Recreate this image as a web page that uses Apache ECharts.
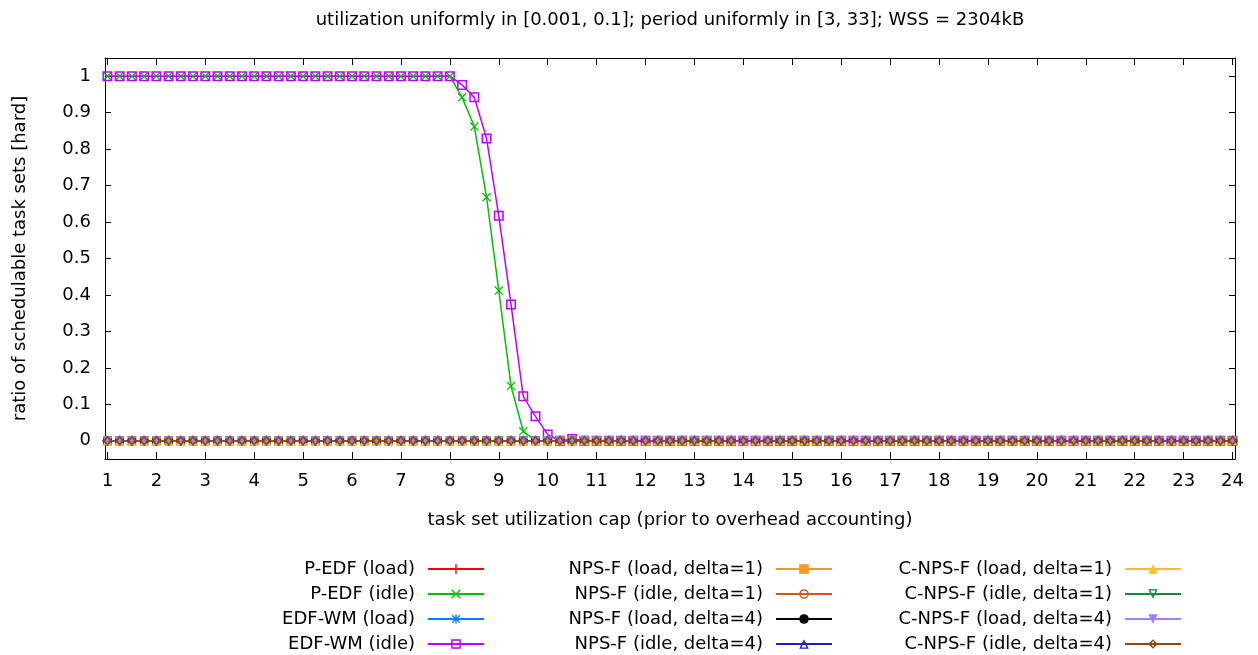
<!DOCTYPE html>
<html><head><meta charset="utf-8">
<script src="https://cdn.jsdelivr.net/npm/echarts@6/dist/echarts.min.js"></script>
<style>html,body{margin:0;padding:0;background:#fff}#c{width:1258px;height:655px}</style>
</head><body><div id="c"></div><script>
// ---- data ----
const xValues = [1,1.25,1.5,1.75,2,2.25,2.5,2.75,3,3.25,3.5,3.75,4,4.25,4.5,4.75,5,5.25,5.5,5.75,6,6.25,6.5,6.75,7,7.25,7.5,7.75,8,8.25,8.5,8.75,9,9.25,9.5,9.75,10,10.25,10.5,10.75,11,11.25,11.5,11.75,12,12.25,12.5,12.75,13,13.25,13.5,13.75,14,14.25,14.5,14.75,15,15.25,15.5,15.75,16,16.25,16.5,16.75,17,17.25,17.5,17.75,18,18.25,18.5,18.75,19,19.25,19.5,19.75,20,20.25,20.5,20.75,21,21.25,21.5,21.75,22,22.25,22.5,22.75,23,23.25,23.5,23.75,24];

const zeroRow = [0,0,0,0,0,0,0,0,0,0, 0,0,0,0,0,0,0,0,0,0, 0,0,0,0,0,0,0,0,0,0, 0,0,0,0,0,0,0,0,0,0, 0,0,0,0,0,0,0,0,0,0, 0,0,0,0,0,0,0,0,0,0, 0,0,0,0,0,0,0,0,0,0, 0,0,0,0,0,0,0,0,0,0, 0,0,0,0,0,0,0,0,0,0, 0,0,0];

const pEdfLoad = zeroRow;
const pEdfIdle = [1,1,1,1,1,1,1,1,1,1, 1,1,1,1,1,1,1,1,1,1, 1,1,1,1,1,1,1,1,1,
  0.942,0.862,0.668,0.412,0.150,0.026,
  0,0,0,0,0,0,0,0,0,0, 0,0,0,0,0,0,0,0,0,0, 0,0,0,0,0,0,0,0,0,0, 0,0,0,0,0,0,0,0,0,0, 0,0,0,0,0,0,0,0,0,0, 0,0,0,0,0,0,0,0];
const edfWmLoad = zeroRow;
const edfWmIdle = [1,1,1,1,1,1,1,1,1,1, 1,1,1,1,1,1,1,1,1,1, 1,1,1,1,1,1,1,1,1,
  0.976,0.942,0.829,0.617,0.374,0.122,0.067,0.017,0,0.005,
  0,0,0,0,0,0,0,0,0,0, 0,0,0,0,0,0,0,0,0,0, 0,0,0,0,0,0,0,0,0,0, 0,0,0,0,0,0,0,0,0,0, 0,0,0,0,0,0,0,0,0,0, 0,0,0,0];
const npsfLoadD1 = zeroRow;
const npsfIdleD1 = zeroRow;
const npsfLoadD4 = zeroRow;
const npsfIdleD4 = zeroRow;
const cnpsfLoadD1 = zeroRow;
const cnpsfIdleD1 = zeroRow;
const cnpsfLoadD4 = zeroRow;
const cnpsfIdleD4 = zeroRow;

const seriesNames = ['P-EDF (load)','P-EDF (idle)','EDF-WM (load)','EDF-WM (idle)',
  'NPS-F (load, delta=1)','NPS-F (idle, delta=1)','NPS-F (load, delta=4)','NPS-F (idle, delta=4)',
  'C-NPS-F (load, delta=1)','C-NPS-F (idle, delta=1)','C-NPS-F (load, delta=4)','C-NPS-F (idle, delta=4)'];
const seriesValues = [pEdfLoad,pEdfIdle,edfWmLoad,edfWmIdle,npsfLoadD1,npsfIdleD1,npsfLoadD4,npsfIdleD4,cnpsfLoadD1,cnpsfIdleD1,cnpsfLoadD4,cnpsfIdleD4];

const xTicks = [1,2,3,4,5,6,7,8,9,10,11,12,13,14,15,16,17,18,19,20,21,22,23,24];
const yTicks = [0,0.1,0.2,0.3,0.4,0.5,0.6,0.7,0.8,0.9,1];
const yTickLabels = ['0','0.1','0.2','0.3','0.4','0.5','0.6','0.7','0.8','0.9','1'];

const titleText = 'utilization uniformly in [0.001, 0.1]; period uniformly in [3, 33]; WSS = 2304kB';
const xName = 'task set utilization cap (prior to overhead accounting)';
const yName = 'ratio of schedulable task sets [hard]';

// ---- styles ----
const FONT = 'DejaVu Sans';
const FS = 18;
const PLUS = 'path://M4.25,0H5.75V10H4.25Z M0,4.25H10V5.75H0Z';
const CROSS = 'path://M0,1L1,0L10,9L9,10Z M9,0L10,1L1,10L0,9Z';
const STAR = 'path://M4.3,0H5.7V10H4.3Z M0,4.3H10V5.7H0Z M0.5,1.5L1.5,0.5L9.5,8.5L8.5,9.5Z M8.5,0.5L9.5,1.5L1.5,9.5L0.5,8.5Z';
const OSQUARE = 'path://M0,0H10V10H0Z M1.5,1.5V8.5H8.5V1.5Z';
const OCIRCLE = 'path://M5,0A5,5,0,1,1,5,10A5,5,0,1,1,5,0Z M5,1.5A3.5,3.5,0,1,0,5,8.5A3.5,3.5,0,1,0,5,1.5Z';
const OTRI = 'path://M5,0L10,10L0,10Z M5,3.13L2.27,8.6L7.73,8.6Z';
const ODTRI = 'path://M0,0L10,0L5,10Z M2.27,1.4L5,6.87L7.73,1.4Z';
const DTRI = 'path://M0,0L10,0L5,10Z';
const ODIAM = 'path://M5,0L10,5L5,10L0,5Z M5,2L3,5L5,8L7,5Z';
const styles = [
  {color:'#ff0000', symbol:PLUS, size:10},
  {color:'#00c000', symbol:CROSS, size:9},
  {color:'#0080ff', symbol:STAR, size:10},
  {color:'#c000ff', symbol:OSQUARE, size:10},
  {color:'#ff9620', symbol:'rect', size:9},
  {color:'#dd5511', symbol:OCIRCLE, size:9},
  {color:'#000000', symbol:'circle', size:9},
  {color:'#2020c0', symbol:OTRI, size:9},
  {color:'#ffc020', symbol:'triangle', size:9},
  {color:'#108a40', symbol:ODTRI, size:9},
  {color:'#a080ff', symbol:DTRI, size:9},
  {color:'#8c4a14', symbol:ODIAM, size:10}
];

const series = seriesNames.map((name, i) => ({
  name: name,
  type: 'line',
  data: xValues.map((x, j) => [x, seriesValues[i][j]]),
  symbol: styles[i].symbol,
  symbolSize: styles[i].size,
  showSymbol: true,
  showAllSymbol: true,
  lineStyle: {color: styles[i].color, width: 1.5},
  itemStyle: {color: styles[i].color},
  emphasis: {disabled: true},
  animation: false,
  z: 2
}));

const txt = {fontFamily: FONT, fontSize: FS, color: '#000'};
function legendCfg(names, rightPx) {
  return {
    data: names, orient: 'vertical', right: rightPx, top: 560, padding: 0,
    itemGap: 7, itemWidth: 56, itemHeight: 12, align: 'right', selectedMode: false,
    textStyle: Object.assign({padding: [0, 8, 0, 0]}, txt)
  };
}

const axisLineStyle = {color: '#000', width: 1};
const option = {
  backgroundColor: '#fff',
  animation: false,
  title: {text: titleText, left: 670, top: 11, padding: 0, textAlign: 'center',
    textStyle: {fontFamily: FONT, fontSize: FS, fontWeight: 'normal', color: '#000'}},
  legend: [
    legendCfg(seriesNames.slice(0, 4), 773),
    legendCfg(seriesNames.slice(4, 8), 425),
    legendCfg(seriesNames.slice(8, 12), 76)
  ],
  grid: {left: 105, right: 23, top: 58, bottom: 196, containLabel: false},
  xAxis: [
    {type: 'value', min: 0.95, max: 24.05, position: 'bottom',
      axisLine: {show: true, onZero: false, lineStyle: axisLineStyle},
      axisTick: {show: true, inside: true, length: 7, customValues: xTicks, lineStyle: axisLineStyle},
      axisLabel: {show: true, customValues: xTicks, margin: 13, fontFamily: FONT, fontSize: FS, color: '#000'},
      splitLine: {show: false},
      name: xName, nameLocation: 'middle', nameGap: 52, nameTextStyle: txt},
    {type: 'value', min: 0.95, max: 24.05, position: 'top',
      axisLine: {show: true, onZero: false, lineStyle: axisLineStyle},
      axisTick: {show: true, inside: true, length: 7, customValues: xTicks, lineStyle: axisLineStyle},
      axisLabel: {show: false}, splitLine: {show: false}}
  ],
  yAxis: [
    {type: 'value', min: -0.05, max: 1.05, position: 'left',
      axisLine: {show: true, onZero: false, lineStyle: axisLineStyle},
      axisTick: {show: true, inside: true, length: 6, customValues: yTicks, lineStyle: axisLineStyle},
      axisLabel: {show: true, customValues: yTicks, margin: 14, fontFamily: FONT, fontSize: FS, color: '#000',
        formatter: v => { let k = Math.round(v * 10); return yTickLabels[k]; }},
      splitLine: {show: false},
      name: yName, nameLocation: 'middle', nameGap: 76, nameTextStyle: txt},
    {type: 'value', min: -0.05, max: 1.05, position: 'right',
      axisLine: {show: true, onZero: false, lineStyle: axisLineStyle},
      axisTick: {show: true, inside: true, length: 6, customValues: yTicks, lineStyle: axisLineStyle},
      axisLabel: {show: false}, splitLine: {show: false}}
  ],
  series: series
};
const chart = echarts.init(document.getElementById('c'), null, {renderer: 'canvas'});
chart.setOption(option);
</script></body></html>
